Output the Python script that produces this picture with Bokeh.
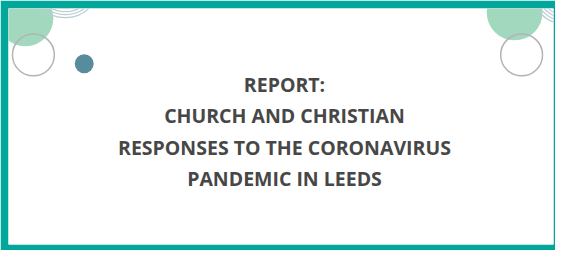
from bokeh.plotting import figure
from bokeh.models import Range1d
from bokeh.core.properties import value
from bokeh.embed import file_html
from bokeh.resources import INLINE

# Text content of the banner
title_lines = ["REPORT:", "CHURCH AND CHRISTIAN",
               "RESPONSES TO THE CORONAVIRUS", "PANDEMIC IN LEEDS"]

TEAL = "#02a79b"
GREEN = "#a2d8bd"
GRAY = "#b3b3b3"
BLUE = "#578c9f"
ARC = "#b9cdd3"
TEXT = "#474747"

p = figure(width=555, height=250, output_backend="svg", toolbar_location=None,
           x_range=Range1d(11, 558), y_range=Range1d(251, 12),
           min_border_left=8, min_border_right=2, min_border_top=8, min_border_bottom=6,
           border_fill_color=TEAL, background_fill_color="white",
           outline_line_color=None)
p.axis.visible = False
p.grid.visible = False

# decorative shapes
p.circle(x=[28, 519], y=[22, 16], radius=28, fill_color=GREEN, line_color=None)
p.circle(x=[36, 526], y=[59, 59], radius=21, fill_color=None, line_color=GRAY, line_width=1.5)
p.circle(x=[87], y=[68], radius=9.5, fill_color=BLUE, line_color=None)
for r in [26, 29, 32, 35]:
    p.circle(x=[68], y=[-14], radius=r, fill_color=None, line_color=ARC, line_width=1.2)
    p.circle(x=[568], y=[-4], radius=r - 4, fill_color=None, line_color=ARC, line_width=1.2)

ys = [89 + 31.7 * i for i in range(len(title_lines))]
xs = [288] * len(title_lines)
p.text(x=xs, y=ys, text=title_lines, text_align="center", text_baseline="middle",
       text_font=value("Open Sans"), text_font_style="bold", text_font_size="19.5px",
       text_color=TEXT)

open("out.html", "w").write(file_html(p, INLINE))
